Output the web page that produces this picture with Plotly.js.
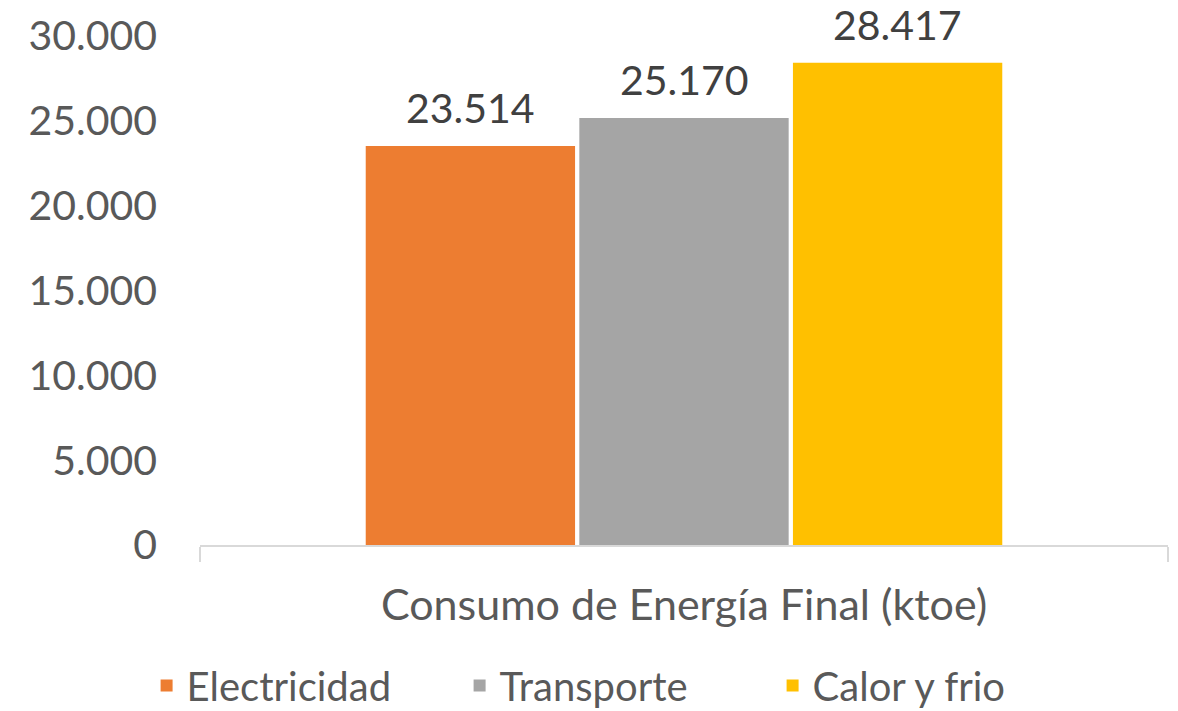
<!DOCTYPE html>
<html>
<head>
<meta charset="utf-8">
<script src="https://cdn.plot.ly/plotly-3.0.1.min.js"></script>
<style>html,body{margin:0;padding:0;background:#fff}</style>
</head>
<body>
<div id="chart" style="width:1178px;height:711px"></div>
<script>
const categories = ["Consumo de Energía Final (ktoe)"];
const seriesNames = ["Electricidad", "Transporte", "Calor y frio"];
const electricidad = [23514];
const transporte = [25170];
const calorYFrio = [28417];
const seriesValues = [electricidad, transporte, calorYFrio];
const colors = ["#ED7D31", "#A5A5A5", "#FFC000"];
const yTickVals = [0, 5000, 10000, 15000, 20000, 25000, 30000];

const font = "Lato, 'Open Sans', sans-serif";
const bargap = 0.338;

const traces = seriesNames.map((name, k) => ({
  type: "bar",
  name: name,
  x: categories,
  y: seriesValues[k],
  marker: {color: colors[k]},
  hoverinfo: "skip"
}));

const nS = seriesNames.length;
const slot = (1 - bargap) / nS;
const annotations = [];
seriesValues.forEach((vals, k) => {
  vals.forEach((v, i) => {
    annotations.push({
      xref: "x", yref: "y",
      x: i + (k - (nS - 1) / 2) * slot,
      y: v,
      text: v.toLocaleString("de-DE"),
      showarrow: false,
      yanchor: "bottom",
      yshift: 12,
      font: {family: font, size: 41, color: "#404040"}
    });
  });
});

const layout = {
  width: 1178, height: 711,
  margin: {l: 200, r: 10, t: 36, b: 166, autoexpand: false},
  paper_bgcolor: "#fff", plot_bgcolor: "#fff",
  separators: ",.",
  barmode: "group",
  bargap: bargap,
  bargroupgap: 0.02,
  showlegend: true,
  legend: {
    orientation: "h", xref: "container", x: 0.523, xanchor: "center",
    y: -0.34, yanchor: "bottom",
    entrywidth: 268,
    bgcolor: "rgba(0,0,0,0)",
    font: {family: font, size: 40, color: "#595959"},
    itemclick: false
  },
  xaxis: {
    type: "category",
    showline: true, linecolor: "#D9D9D9", linewidth: 2,
    ticks: "outside", tickson: "boundaries", ticklen: 15,
    tickcolor: "#D9D9D9", tickwidth: 2,
    ticklabelstandoff: 21,
    tickfont: {family: font, size: 43, color: "#595959"},
    showgrid: false, zeroline: false
  },
  yaxis: {
    range: [0, 30000],
    tickvals: yTickVals,
    tickformat: ",",
    showgrid: false, zeroline: false, showline: false,
    ticks: "",
    ticklabelstandoff: 42,
    tickfont: {family: font, size: 41, color: "#595959"}
  },
  annotations: annotations
};

Plotly.newPlot("chart", traces, layout, {displayModeBar: false, staticPlot: true});
</script>
</body>
</html>
